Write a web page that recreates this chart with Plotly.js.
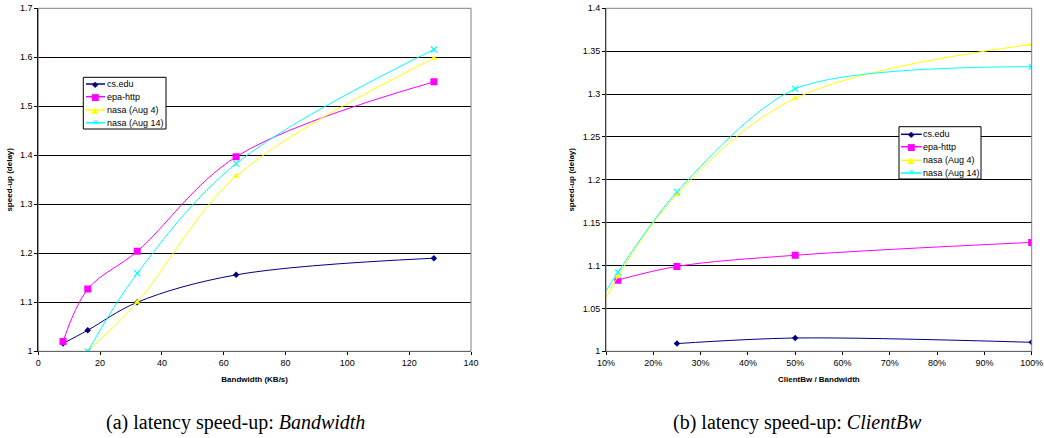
<!DOCTYPE html>
<html><head><meta charset="utf-8">
<script src="https://cdn.plot.ly/plotly-3.0.1.min.js"></script>
<style>body{margin:0;background:#fff}#c{width:1044px;height:438px}</style>
</head><body><div id="c"></div>
<script>
// (a) latency speed-up vs Bandwidth
const bwCsX = [8, 16, 32, 64, 128];
const bwCsY = [1.016, 1.043, 1.100, 1.156, 1.190];
const bwEpaX = [8, 16, 32, 64, 128];
const bwEpaY = [1.020, 1.127, 1.204, 1.397, 1.550];
const bwN4X = [16, 32, 64, 128];
const bwN4Y = [1.000, 1.100, 1.357, 1.598];
const bwN14X = [16, 32, 64, 128];
const bwN14Y = [1.000, 1.159, 1.383, 1.616];
// (b) latency speed-up vs ClientBw / Bandwidth
const cbCsX = [0.25, 0.5, 1.0];
const cbCsY = [1.009, 1.0155, 1.0105];
const cbEpaX = [0.125, 0.25, 0.5, 1.0];
const cbEpaY = [1.083, 1.099, 1.112, 1.127];
const cbN4X = [0.0625, 0.125, 0.25, 0.5, 1.0];
const cbN4Y = [1.020, 1.087, 1.183, 1.295, 1.358];
const cbN14X = [0.0625, 0.125, 0.25, 0.5, 1.0];
const cbN14Y = [1.036, 1.092, 1.186, 1.306, 1.332];

const names = ['cs.edu', 'epa-http', 'nasa (Aug 4)', 'nasa (Aug 14)'];
const colors = ['#000080', '#FF00FF', '#FFFF00', '#00FFFF'];
const symbols = ['diamond', 'square', 'triangle-up', 'x-thin-open'];
const sizes = [5, 7, 6, 6];
const glyphs = ['\u25C6', '\u25A0', '\u25B2', '\u2715'];
const glyphSizes = [8, 9, 8, 8];

function tr(x, y, i, xa, ya, sm) {
  return {
    x: x, y: y, name: names[i], type: 'scatter', mode: 'lines+markers',
    xaxis: xa, yaxis: ya, showlegend: false, cliponaxis: true,
    line: {color: colors[i], width: 1, shape: 'spline', smoothing: sm},
    marker: {color: colors[i], symbol: symbols[i], size: sizes[i],
             line: {color: colors[i], width: i === 3 ? 1.2 : 0}}
  };
}
const data = [
  tr(bwCsX, bwCsY, 0, 'x', 'y', 1),
  tr(bwEpaX, bwEpaY, 1, 'x', 'y', 1),
  tr(bwN4X, bwN4Y, 2, 'x', 'y', 1),
  tr(bwN14X, bwN14Y, 3, 'x', 'y', 1),
  tr(cbCsX, cbCsY, 0, 'x2', 'y2', 0.9),
  tr(cbEpaX, cbEpaY, 1, 'x2', 'y2', 1),
  tr(cbN4X, cbN4Y, 2, 'x2', 'y2', 1),
  tr(cbN14X, cbN14Y, 3, 'x2', 'y2', 0.8)
];

const tickFont = {family: 'Liberation Sans, Arial, sans-serif', size: 9, color: '#000'};
const titleFont = {family: 'Liberation Sans, Arial, sans-serif', size: 8, color: '#000'};
const W = 1044, H = 438;
const yDom = [(H - 351.3) / H, (H - 8.3) / H];

function xax(dom, range, dtick, fmt, title) {
  return {domain: dom, range: range, dtick: dtick, tick0: range[0], tickformat: fmt,
    showgrid: false, zeroline: false, showline: true, linecolor: '#000', linewidth: 1,
    ticks: 'outside', ticklen: 3, tickcolor: '#000', tickfont: tickFont,
    title: {text: title, font: titleFont, standoff: 9}};
}
function yax(range, dtick, anchor) {
  return {domain: yDom, range: range, dtick: dtick, tick0: 1, anchor: anchor,
    showgrid: true, gridcolor: '#000', gridwidth: 1, zeroline: false,
    showline: true, linecolor: '#000', linewidth: 1,
    ticks: 'outside', ticklen: 3, tickcolor: '#000', tickfont: tickFont,
    title: {text: '<b>speed-up (delay)</b>', font: titleFont, standoff: 6}};
}

// manual legends (box, sample line, glyph, label) — layout, not data
const shapes = [
  {type: 'rect', xref: 'x domain', yref: 'y domain', x0: 0, x1: 1, y0: 0, y1: 1,
   line: {color: '#808080', width: 1}},
  {type: 'rect', xref: 'x2 domain', yref: 'y2 domain', x0: 0, x1: 1, y0: 0, y1: 1,
   line: {color: '#808080', width: 1}}
];
const annotations = [
  {xref: 'paper', yref: 'paper', x: 235 / W, y: (H - 422) / H, xanchor: 'center', yanchor: 'middle',
   showarrow: false, text: '(a) latency speed-up: <i>Bandwidth</i>',
   font: {family: 'Liberation Serif, DejaVu Serif, serif', size: 20, color: '#000'}},
  {xref: 'paper', yref: 'paper', x: 797 / W, y: (H - 422) / H, xanchor: 'center', yanchor: 'middle',
   showarrow: false, text: '(b) latency speed-up: <i>ClientBw</i>',
   font: {family: 'Liberation Serif, DejaVu Serif, serif', size: 20, color: '#000'}}
];
function legendBox(bx0, bx1, by0, by1, rows, lx0, lx1, tx) {
  shapes.push({type: 'rect', xref: 'paper', yref: 'paper', x0: bx0 / W, x1: bx1 / W,
    y0: (H - by1) / H, y1: (H - by0) / H, fillcolor: '#fff', line: {color: '#000', width: 1}, layer: 'above'});
  rows.forEach((ry, i) => {
    shapes.push({type: 'line', xref: 'paper', yref: 'paper', x0: lx0 / W, x1: lx1 / W,
      y0: (H - ry) / H, y1: (H - ry) / H, line: {color: colors[i], width: 1.5}, layer: 'above'});
    annotations.push({xref: 'paper', yref: 'paper', x: (lx0 + lx1) / 2 / W, y: (H - ry) / H,
      xanchor: 'center', yanchor: 'middle', showarrow: false, text: glyphs[i],
      font: {family: 'DejaVu Sans, sans-serif', size: glyphSizes[i], color: colors[i]}});
    annotations.push({xref: 'paper', yref: 'paper', x: tx / W, y: (H - ry) / H,
      xanchor: 'left', yanchor: 'middle', showarrow: false, text: names[i], borderpad: 0,
      font: {family: 'Liberation Sans, Arial, sans-serif', size: 9, color: '#000'}});
  });
}
legendBox(83.3, 166, 77.3, 129, [84, 96.7, 110, 122.7], 86, 105, 106);
legendBox(899, 981, 126.7, 179, [134.3, 146.7, 160.3, 173], 901, 921.7, 922);

const layout = {
  width: W, height: H, margin: {l: 0, r: 0, t: 0, b: 0},
  paper_bgcolor: '#fff', plot_bgcolor: '#fff', showlegend: false,
  xaxis: xax([38.3 / W, 471 / W], [0, 140], 20, '', '<b>Bandwidth (KB/s)</b>'),
  yaxis: yax([1, 1.7], 0.1, 'x'),
  xaxis2: Object.assign(xax([606 / W, 1031.7 / W], [0.1, 1.0], 0.1, '.0%', '<b>ClientBw / Bandwidth</b>'), {anchor: 'y2'}),
  yaxis2: yax([1, 1.4], 0.05, 'x2'),
  shapes: shapes,
  annotations: annotations
};
Plotly.newPlot('c', data, layout, {displayModeBar: false, staticPlot: true});
</script></body></html>
